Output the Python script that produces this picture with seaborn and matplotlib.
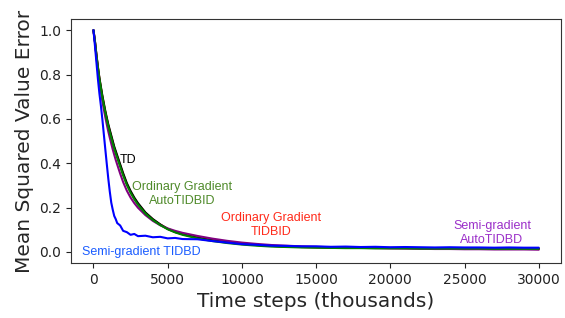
import matplotlib
matplotlib.use('Agg')
import matplotlib.pyplot as plt
import seaborn as sns
import pandas as pd

# 数据
steps = [0, 100, 200, 300, 400, 500, 600, 700, 800, 900, 1000, 1100, 1200, 1300, 1400,
         1500, 1600, 1800, 2000, 2250, 2500, 2750, 3000, 3500, 4000, 4500, 5000, 5500,
         6000, 7000, 8000, 9000, 10000, 11000, 12000, 13000, 14000, 15000, 16000, 17000,
         18000, 19000, 20000, 21000, 22000, 23000, 24000, 25000, 26000, 27000, 28000,
         29000, 30000]

td = [1.0, 0.95, 0.89, 0.835, 0.785, 0.745, 0.705, 0.67, 0.635, 0.605, 0.575, 0.55,
      0.525, 0.5, 0.475, 0.455, 0.435, 0.395, 0.355, 0.31, 0.275, 0.245, 0.22, 0.178,
      0.148, 0.124, 0.104, 0.09, 0.08, 0.064, 0.052, 0.043, 0.036, 0.031, 0.027, 0.024,
      0.022, 0.021, 0.02, 0.019, 0.019, 0.018, 0.018, 0.018, 0.017, 0.017, 0.016, 0.016,
      0.016, 0.016, 0.015, 0.015, 0.015]

og_autotidbid = [1.0, 0.95, 0.885, 0.83, 0.78, 0.738, 0.698, 0.662, 0.628, 0.597, 0.567,
                 0.54, 0.515, 0.49, 0.466, 0.445, 0.425, 0.385, 0.345, 0.302, 0.267,
                 0.238, 0.213, 0.173, 0.144, 0.121, 0.102, 0.088, 0.077, 0.061, 0.049,
                 0.04, 0.033, 0.028, 0.024, 0.022, 0.02, 0.019, 0.018, 0.017, 0.017,
                 0.016, 0.016, 0.016, 0.015, 0.015, 0.015, 0.015, 0.015, 0.014, 0.014,
                 0.014, 0.014]

og_tidbid = [1.0, 0.95, 0.888, 0.832, 0.782, 0.74, 0.7, 0.665, 0.63, 0.6, 0.57, 0.545,
             0.52, 0.495, 0.47, 0.45, 0.43, 0.39, 0.35, 0.306, 0.27, 0.241, 0.216, 0.176,
             0.146, 0.123, 0.104, 0.09, 0.08, 0.065, 0.053, 0.044, 0.037, 0.031, 0.027,
             0.024, 0.022, 0.021, 0.02, 0.019, 0.018, 0.018, 0.017, 0.017, 0.016, 0.016,
             0.015, 0.015, 0.015, 0.014, 0.014, 0.014, 0.013]

sg_autotidbd = [1.0, 0.945, 0.88, 0.82, 0.768, 0.722, 0.68, 0.642, 0.607, 0.574, 0.543,
                0.515, 0.488, 0.462, 0.438, 0.415, 0.394, 0.353, 0.315, 0.276, 0.245,
                0.22, 0.199, 0.166, 0.14, 0.12, 0.106, 0.095, 0.086, 0.072, 0.06, 0.05,
                0.042, 0.036, 0.031, 0.028, 0.025, 0.023, 0.021, 0.019, 0.018, 0.017,
                0.016, 0.015, 0.014, 0.013, 0.013, 0.012, 0.012, 0.011, 0.011, 0.011, 0.01]

sg_tidbd = [1.0, 0.93, 0.855, 0.78, 0.715, 0.66, 0.598, 0.53, 0.462, 0.395, 0.33, 0.272,
            0.222, 0.19, 0.162, 0.148, 0.13, 0.119, 0.095, 0.089, 0.077, 0.081, 0.071,
            0.073, 0.066, 0.068, 0.061, 0.063, 0.058, 0.057, 0.049, 0.042, 0.035, 0.032,
            0.028, 0.027, 0.025, 0.025, 0.023, 0.024, 0.022, 0.023, 0.021, 0.022, 0.021,
            0.02, 0.021, 0.02, 0.02, 0.019, 0.02, 0.019, 0.019]

series = [
    ('Ordinary Gradient TIDBID', og_tidbid, 'red'),
    ('TD', td, 'black'),
    ('Semi-gradient AutoTIDBD', sg_autotidbd, '#800080'),
    ('Ordinary Gradient AutoTIDBID', og_autotidbid, 'green'),
    ('Semi-gradient TIDBD', sg_tidbd, 'blue'),
]

rows = []
for name, vals, _ in series:
    for s, v in zip(steps, vals):
        rows.append({'step': s, 'mse': v, 'method': name})
df = pd.DataFrame(rows)

sns.set_style('ticks')
fig, ax = plt.subplots(figsize=(5.65, 3.18), dpi=100)
fig.subplots_adjust(left=0.126, right=0.993, top=0.94, bottom=0.173)

sns.lineplot(data=df, x='step', y='mse', hue='method',
             hue_order=[s[0] for s in series],
             palette={s[0]: s[2] for s in series},
             linewidth=1.5, legend=False, ax=ax)

ax.set_xticks([0, 5000, 10000, 15000, 20000, 25000, 30000])
ax.set_yticks([0.0, 0.2, 0.4, 0.6, 0.8, 1.0])
ax.set_xlim(-1500, 31500)
ax.set_ylim(-0.05, 1.05)
ax.tick_params(labelsize=10, colors='#222222')
for sp in ax.spines.values():
    sp.set_color('#333333')
ax.set_xlabel('Time steps (thousands)', fontsize=14.5)
ax.set_ylabel('Mean Squared Value Error', fontsize=14.5)

# 曲线标注
lab = dict(fontsize=9, family=['Liberation Sans', 'DejaVu Sans'], ha='center', va='center')
ax.text(2300, 0.415, 'TD', color='black', **lab)
ax.text(6000, 0.26, 'Ordinary Gradient\nAutoTIDBID', color='#4f8a2a', linespacing=1.2, **lab)
ax.text(11950, 0.12, 'Ordinary Gradient\nTIDBID', color='#ff2a1a', linespacing=1.2, **lab)
ax.text(26850, 0.085, 'Semi-gradient\nAutoTIDBD', color='#9b2fc9', linespacing=1.2, **lab)
ax.text(3250, 0.0, 'Semi-gradient TIDBD', color='#1a5cff', **lab)

plt.savefig('out.png', dpi=100)
